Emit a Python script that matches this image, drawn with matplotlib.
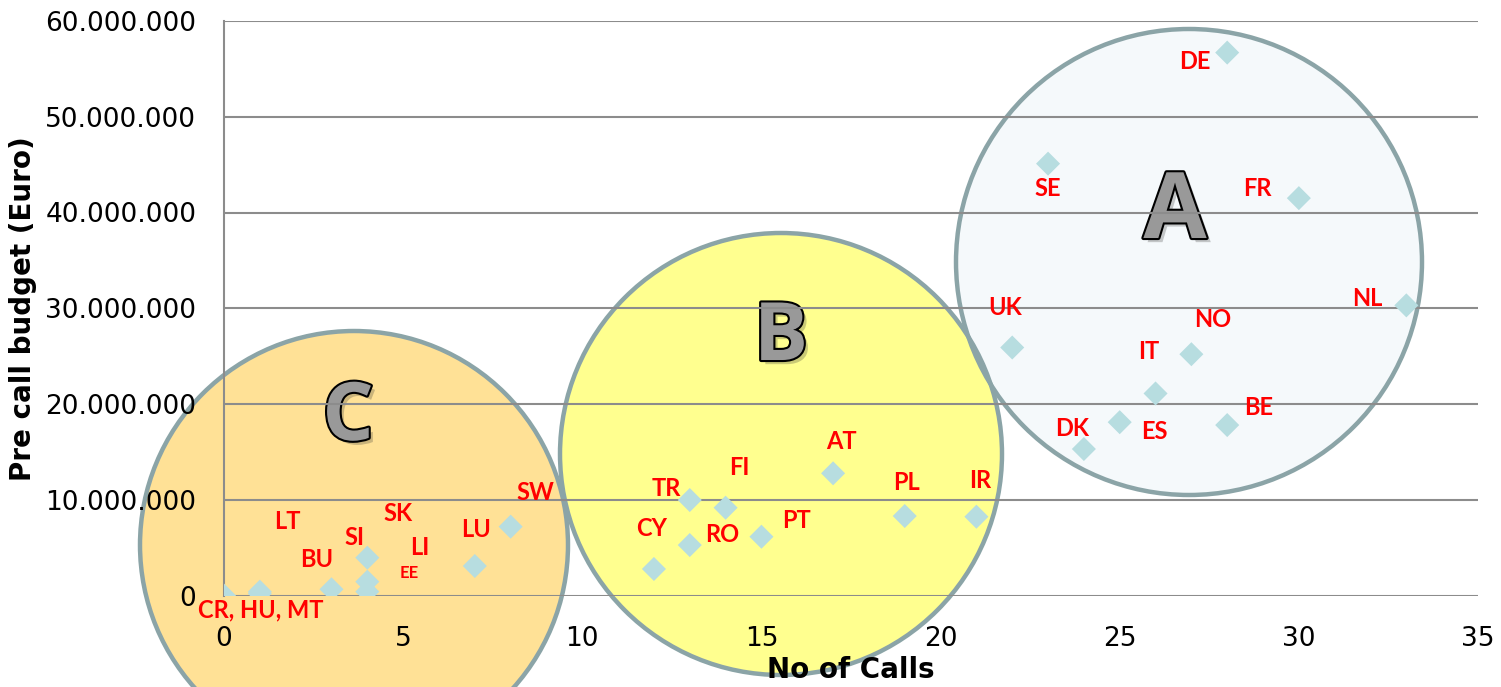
import matplotlib
matplotlib.use("Agg")
import matplotlib.pyplot as plt
from matplotlib.patches import Ellipse
from matplotlib.ticker import FuncFormatter
import matplotlib.patheffects as pe
from matplotlib import font_manager

# ---------------- data ----------------
calls = [0, 1, 1, 3, 4, 4, 4, 7, 8,
         12, 13, 13, 14, 15, 17, 19, 21,
         22, 23, 24, 25, 26, 27, 28, 28, 30, 33]
budget_m = [0, 0.4, 0.2, 0.65, 3.95, 1.44, 0.4, 3.08, 7.19,
            2.77, 9.97, 5.27, 9.17, 6.14, 12.76, 8.3, 8.23,
            25.9, 45.1, 15.3, 18.1, 21.1, 25.2, 56.7, 17.8, 41.5, 30.3]
budget = [v * 1e6 for v in budget_m]

label_texts = ["CR, HU, MT", "LT", "BU", "SI", "SK", "LI", "EE", "LU", "SW",
               "CY", "TR", "RO", "FI", "PT", "AT", "PL", "IR",
               "UK", "SE", "DK", "ES", "IT", "NO", "DE", "BE", "FR", "NL"]
label_anchor = [1, 1, 3, 4, 4, 5, 6, 7, 8,
                9, 10, 11, 12, 13, 14, 15, 16,
                17, 18, 19, 20, 21, 22, 23, 24, 25, 26]

x_ticks = [0, 5, 10, 15, 20, 25, 30, 35]
y_ticks = [0, 10e6, 20e6, 30e6, 40e6, 50e6, 60e6]

# ---------------- style ----------------
# label offsets in pixels (dx right, dy down)
label_offsets = [(1, 18), (28, -70), (-15, -30), (-13, -20), (31, -44), (52, -34), (42, -19),
                 (1, -37), (25, -34),
                 (-2, -40), (-23, -12), (32, -11), (14, -40), (35, -16), (8, -32), (2, -34), (4, -36),
                 (-7, -40), (0, 25), (-12, -21), (35, 9), (-7, -42), (21, -35), (-32, 9), (31, -18),
                 (-41, -10), (-39, -7)]
label_sizes = [17 if t != "EE" else 12 for t in label_texts]

avail = {f.name for f in font_manager.fontManager.ttflist}
narrow = [f for f in ["Liberation Sans Narrow", "DejaVu Sans Condensed"] if f in avail]

fig = plt.figure(figsize=(15.01, 6.87), dpi=100)
W, H = 1501, 687
ax_left, ax_right, ax_top, ax_bot = 224, 1478, 21, 595.5
ax = fig.add_axes([ax_left / W, (H - ax_bot) / H, (ax_right - ax_left) / W, (ax_bot - ax_top) / H])
ax.set_xlim(0, 35)
ax.set_ylim(0, 60e6)

px_x = 35 / (ax_right - ax_left)
px_y = 60e6 / (ax_bot - ax_top)

def to_data(xp, yp):
    return (xp - ax_left) * px_x, (ax_bot - yp) * px_y

edge_col = "#8BA4A7"
circles = [  # (center px x, center px y, radius px, fill)
    (1189, 262, 233, "#F5F9FB"),
    (354, 545, 214, "#FFE196"),
    (781, 454, 221, "#FFFF8F"),
]
for cx, cy, r, fc in circles:
    dx, dy = to_data(cx, cy)
    e = Ellipse((dx, dy), 2 * r * px_x, 2 * r * px_y, facecolor=fc, edgecolor="none",
                zorder=0.2, clip_on=False)
    ax.add_patch(e)
for cx, cy, r, fc in circles:
    dx, dy = to_data(cx, cy)
    e = Ellipse((dx, dy), 2 * r * px_x, 2 * r * px_y, facecolor="none", edgecolor=edge_col,
                linewidth=3.2, zorder=0.3, clip_on=False)
    ax.add_patch(e)

# big letters
letters = [("A", 1175, 214, 66), ("B", 781, 339, 58), ("C", 348, 419, 58)]
for t, xp, yp, fs in letters:
    dx, dy = to_data(xp, yp)
    ax.text(dx, dy, t, fontsize=fs, fontweight="bold", family=["Open Sans", "DejaVu Sans"],
            color="#999999", ha="center", va="center", zorder=0.45,
            path_effects=[pe.SimplePatchShadow(offset=(3, -3), alpha=0.25),
                          pe.Stroke(linewidth=3, foreground="black"), pe.Normal()])

# grid
ax.set_axisbelow(True)
ax.yaxis.grid(True, color="#8C8C8C", linewidth=1.5)
ax.xaxis.grid(False)
for s in ["top", "right", "bottom"]:
    ax.spines[s].set_visible(False)
ax.spines["left"].set_color("#8C8C8C")
ax.spines["left"].set_linewidth(1.5)

ax.scatter(calls, budget, marker="D", s=150, color="#B7DDE0", edgecolors="none", zorder=3)

for t, ai, (ox, oy), fs in zip(label_texts, label_anchor, label_offsets, label_sizes):
    ax.annotate(t, (calls[ai], budget[ai]), xytext=(ox, -oy), textcoords="offset pixels",
                ha="center", va="center", color="#FF0000", fontsize=fs, fontweight="bold",
                family=["Lato", "DejaVu Sans"], zorder=4, annotation_clip=False)

ax.set_xticks(x_ticks)
ax.set_yticks(y_ticks)
ax.yaxis.set_major_formatter(FuncFormatter(lambda v, p: f"{int(v):,}".replace(",", ".")))
ax.tick_params(axis="both", length=0)
ax.tick_params(axis="y", pad=20, labelsize=19, labelcolor="black")
ax.tick_params(axis="x", pad=22, labelsize=19 if not narrow else 21)
for lbl in ax.get_xticklabels():
    lbl.set_family(narrow + ["DejaVu Sans"])
for lbl in ax.get_yticklabels():
    lbl.set_family(["DejaVu Sans"])

ax.set_xlabel("No of Calls", fontsize=20, fontweight="bold",
              family=narrow + ["DejaVu Sans"], labelpad=3)
ax.set_ylabel("Pre call budget (Euro)", fontsize=20, fontweight="bold", family=["DejaVu Sans"],
              labelpad=6)

fig.savefig("out.png", dpi=100)
